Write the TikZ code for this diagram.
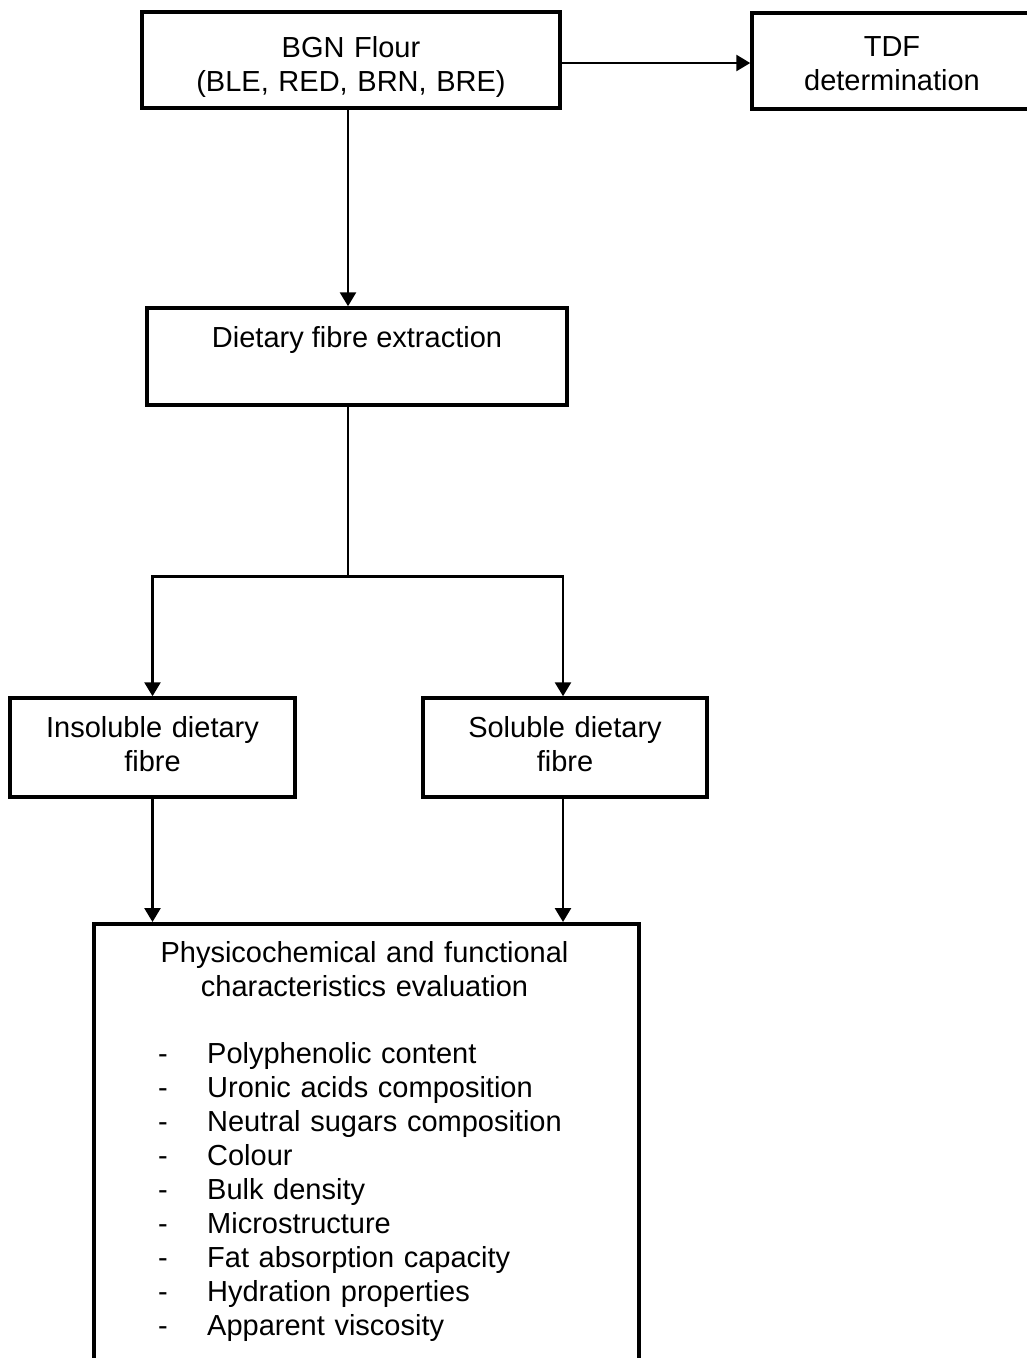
\documentclass[tikz,border=0pt]{standalone}
\usepackage{fontspec}
\setmainfont{Liberation Sans}
\usetikzlibrary{arrows.meta,calc}
\begin{document}
\begin{tikzpicture}[x=1pt,y=-1pt,
  box/.style={draw=black,line width=3.5pt,rectangle,inner sep=0pt},
  conn/.style={line width=2.6pt,draw=black},
  arr/.style={conn,-{Triangle[width=16pt,length=14pt]}},
  txt/.style={inner sep=0pt,font=\fontsize{29}{34}\selectfont,anchor=base}]
\useasboundingbox (0,0) rectangle (1027,1358);
\clip (0,0) rectangle (1027,1358);
\fill[white] (0,0) rectangle (1027,1358);
% boxes
\node[box,minimum width=418pt,minimum height=96pt] (flour) at (351,60) {};
\node[box,minimum width=280pt,minimum height=96pt] (tdf) at (892,61) {};
\node[box,minimum width=420pt,minimum height=97pt] (extract) at (357,356.5) {};
\node[box,minimum width=285pt,minimum height=99pt] (insol) at (152.5,747.5) {};
\node[box,minimum width=284pt,minimum height=99pt] (sol) at (565,747.5) {};
\node[box,anchor=north west,minimum width=545pt,minimum height=520pt] (eval) at (92,922) {};
% texts
\node[txt,text width=410pt,align=center] (flourtxt) at (351,57) {BGN Flour\\(BLE, RED, BRN, BRE)};
\node[txt,text width=270pt,align=center] (tdftxt) at (892,56) {TDF\\determination};
\node[txt] (extracttxt) at (357,347) {Dietary fibre extraction};
\node[txt,text width=275pt,align=center] (insoltxt) at (152.5,737) {Insoluble dietary\\fibre};
\node[txt,text width=275pt,align=center] (soltxt) at (565,737) {Soluble dietary\\fibre};
\node[txt,text width=520pt,align=center] (evaltitle) at (364.5,962)
  {Physicochemical and functional\\characteristics evaluation};
\node[txt,text width=460pt,align=left,anchor=base west] (evallist) at (158,1063)
  {\makebox[49pt][l]{-}Polyphenolic content\\
   \makebox[49pt][l]{-}Uronic acids composition\\
   \makebox[49pt][l]{-}Neutral sugars composition\\
   \makebox[49pt][l]{-}Colour\\
   \makebox[49pt][l]{-}Bulk density\\
   \makebox[49pt][l]{-}Microstructure\\
   \makebox[49pt][l]{-}Fat absorption capacity\\
   \makebox[49pt][l]{-}Hydration properties\\
   \makebox[49pt][l]{-}Apparent viscosity};
% connector points
\coordinate (fe) at ([yshift=-3pt]flour.east);
\coordinate (fs) at ([xshift=-3pt]flour.south);
\coordinate (j) at ($(extract.south)+(-9,170)$);
\coordinate (soln) at ([xshift=-2pt]sol.north);
\coordinate (sols) at ([xshift=-2pt]sol.south);
% connectors
\draw[arr] (fe) -- (fe -| tdf.west);
\draw[arr] (fs) -- (fs |- extract.north);
\draw[conn] (extract.south -| j) -- (j);
\draw[conn,line cap=rect] (j) -- (j -| insol.north);
\draw[conn,line cap=rect] (j) -- (j -| soln);
\draw[arr] (j -| insol.north) -- (insol.north);
\draw[arr] (j -| soln) -- (soln);
\draw[arr] (insol.south) -- (insol.south |- eval.north);
\draw[arr] (sols) -- (sols |- eval.north);
\end{tikzpicture}
\end{document}
